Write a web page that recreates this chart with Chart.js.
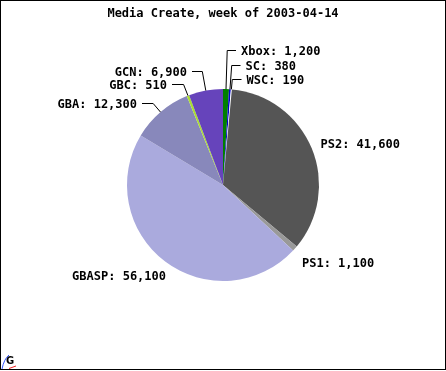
<!DOCTYPE html>
<html>
<head>
<meta charset="utf-8">
<script src="https://cdn.jsdelivr.net/npm/chart.js@4/dist/chart.umd.min.js"></script>
<style>
  html, body { margin: 0; padding: 0; background: #fff; }
  #wrap { position: relative; width: 446px; height: 371px; }
  #frame { position: absolute; left: 0; top: 0; width: 446px; height: 370px; box-sizing: border-box; border: 1px solid #000; pointer-events: none; }
</style>
</head>
<body>
<div id="wrap">
  <canvas id="pie" width="446" height="371"></canvas>
  <div id="frame"></div>
</div>
<script>
// chart data
const TITLE = "Media Create, week of 2003-04-14";
const platforms = ["Xbox", "SC", "WSC", "PS2", "PS1", "GBASP", "GBA", "GBC", "GCN"];
const unitsSold = [1200, 380, 190, 41600, 1100, 56100, 12300, 510, 6900];
const sliceColors = ["#008000", "#0000cc", "#ffffff", "#555555", "#999999", "#aaaadd", "#8888bb", "#aadd33", "#6644bb"];

// label placement: x is text left (align left) or text right (align right), y is text middle
const labelLayout = [
  { x: 241, y: 51, align: "left", leader: true },
  { x: 245.5, y: 66, align: "left", leader: true },
  { x: 246.5, y: 80, align: "left", leader: true },
  { x: 320.5, y: 144, align: "left", leader: false },
  { x: 302, y: 263, align: "left", leader: false },
  { x: 166, y: 276, align: "right", leader: false },
  { x: 137, y: 104, align: "right", leader: true },
  { x: 167, y: 85, align: "right", leader: true },
  { x: 187, y: 71.5, align: "right", leader: true }
];

const LABEL_FONT = "bold 12px 'DejaVu Sans Mono', 'Liberation Mono', monospace";

const fmt = v => v.toLocaleString("en-US");

// ---------- labels, leaders, title, logo ----------
const pieLabels = {
  id: "pieLabels",
  afterDatasetsDraw(chart) {
    const ctx = chart.ctx;
    const meta = chart.getDatasetMeta(0);
    ctx.save();
    ctx.strokeStyle = "#000";
    ctx.lineWidth = 1;
    ctx.fillStyle = "#000";
    ctx.font = LABEL_FONT;
    ctx.textBaseline = "middle";

    meta.data.forEach((arc, i) => {
      const p = arc.getProps(["x", "y", "startAngle", "endAngle", "outerRadius"], true);
      const mid = (p.startAngle + p.endAngle) / 2;
      const px = p.x + Math.cos(mid) * p.outerRadius;
      const py = p.y + Math.sin(mid) * p.outerRadius;
      const lay = labelLayout[i];
      const ly = Math.round(lay.y) - 0.5;

      if (lay.leader) {
        // extend radially until the label row, then go across
        const t = (ly - py) / Math.sin(mid);
        const ex = px + Math.cos(mid) * t;
        const endX = lay.align === "left" ? lay.x - 5 : lay.x + 5;
        ctx.beginPath();
        ctx.moveTo(px, py);
        ctx.lineTo(ex, ly);
        ctx.lineTo(endX, ly);
        ctx.stroke();
      }

      ctx.textAlign = lay.align;
      ctx.fillText(platforms[i] + ": " + fmt(unitsSold[i]), lay.x, lay.y + 1);
    });

    // title
    ctx.font = "bold 12px 'DejaVu Sans Mono', 'Liberation Mono', monospace";
    ctx.textAlign = "center";
    ctx.fillText(TITLE, 223, 14);

    // little logo bottom-left
    ctx.font = "bold 10px 'DejaVu Sans', sans-serif";
    ctx.textAlign = "left";
    ctx.fillText("G", 6, 361);
    ctx.strokeStyle = "#3355ff";
    ctx.beginPath();
    ctx.moveTo(2, 369);
    ctx.quadraticCurveTo(4, 359, 9, 355);
    ctx.stroke();
    ctx.strokeStyle = "#ee2222";
    ctx.beginPath();
    ctx.moveTo(9, 368.5);
    ctx.lineTo(16, 366);
    ctx.stroke();
    ctx.restore();
  }
};

new Chart(document.getElementById("pie").getContext("2d"), {
  type: "pie",
  data: {
    labels: platforms,
    datasets: [{
      data: unitsSold,
      backgroundColor: sliceColors,
      borderWidth: 0
    }]
  },
  options: {
    responsive: false,
    animation: false,
    devicePixelRatio: 1,
    layout: { padding: { left: 127, right: 127, top: 89, bottom: 90 } },
    plugins: {
      legend: { display: false },
      title: { display: false },
      tooltip: { enabled: false }
    }
  },
  plugins: [pieLabels]
});
</script>
</body>
</html>
